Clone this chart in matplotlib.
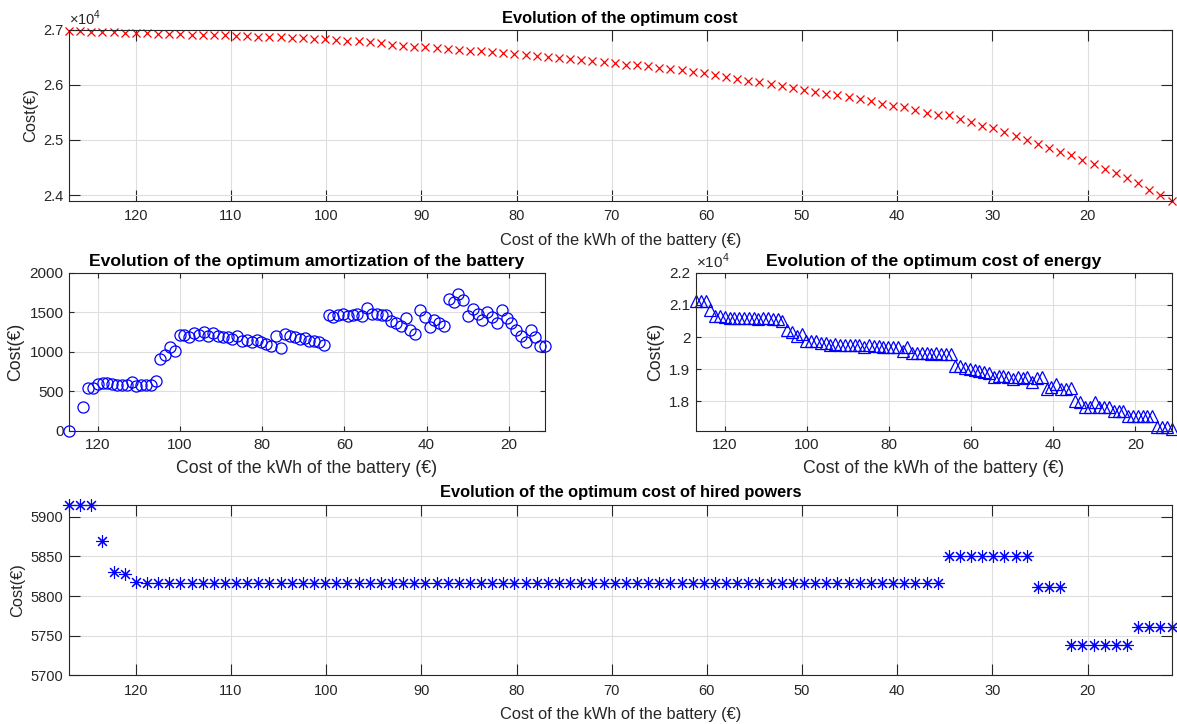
import numpy as np
import matplotlib
matplotlib.use("Agg")
import matplotlib.pyplot as plt
from matplotlib.ticker import FuncFormatter, MultipleLocator

plt.rcParams['font.family'] = ['Liberation Sans', 'DejaVu Sans']
plt.rcParams['mathtext.fontset'] = 'custom'
plt.rcParams['mathtext.rm'] = 'Liberation Sans'

battery_price = [
    127.02, 125.85, 124.68, 123.51, 122.34, 121.17, 120.00, 118.83, 117.66, 116.49,
    115.32, 114.15, 112.98, 111.81, 110.64, 109.47, 108.30, 107.13, 105.96, 104.79,
    103.62, 102.45, 101.28, 100.11, 98.94, 97.77, 96.60, 95.43, 94.26, 93.09,
    91.92, 90.75, 89.58, 88.41, 87.24, 86.07, 84.90, 83.73, 82.56, 81.39,
    80.22, 79.05, 77.88, 76.71, 75.54, 74.37, 73.20, 72.03, 70.86, 69.69,
    68.52, 67.35, 66.18, 65.01, 63.84, 62.67, 61.50, 60.33, 59.16, 57.99,
    56.82, 55.65, 54.48, 53.31, 52.14, 50.97, 49.80, 48.63, 47.46, 46.29,
    45.12, 43.95, 42.78, 41.61, 40.44, 39.27, 38.10, 36.93, 35.76, 34.59,
    33.42, 32.25, 31.08, 29.91, 28.74, 27.57, 26.40, 25.23, 24.06, 22.89,
    21.72, 20.55, 19.38, 18.21, 17.04, 15.87, 14.70, 13.53, 12.36, 11.19]

total_cost = [
    26966, 26966, 26960, 26954, 26948, 26942, 26936, 26930, 26924, 26918,
    26912, 26906, 26900, 26897, 26894, 26888, 26878, 26870, 26864, 26858,
    26846, 26840, 26830, 26822, 26810, 26798, 26786, 26770, 26748, 26728,
    26707, 26690, 26677, 26665, 26647, 26634, 26616, 26604, 26586, 26574,
    26556, 26532, 26514, 26502, 26484, 26466, 26441, 26423, 26411, 26393,
    26363, 26351, 26333, 26303, 26285, 26260, 26230, 26212, 26170, 26140,
    26110, 26073, 26043, 26013, 25983, 25941, 25910, 25869, 25833, 25807,
    25771, 25742, 25711, 25657, 25621, 25590, 25536, 25489, 25460, 25445,
    25385, 25326, 25259, 25217, 25145, 25078, 25005, 24933, 24855, 24783,
    24722, 24643, 24565, 24480, 24403, 24312, 24222, 24100, 23997, 23901]

amortization = [
    0, np.nan, np.nan, 298, 537, 537, 595, 608, 603, 595,
    587, 583, 583, 616, 570, 579, 583, 587, 637, 905,
    959, 1066, 1008, 1215, 1215, 1186, 1235, 1215, 1256, 1194,
    1235, 1202, 1190, 1182, 1161, 1202, 1132, 1149, 1124, 1149,
    1128, 1103, 1078, 1202, 1050, 1227, 1202, 1182, 1165, 1173,
    1132, 1140, 1120, 1091, 1463, 1440, 1467, 1477, 1456, 1467,
    1479, 1450, 1553, 1478, 1477, 1460, 1471, 1394, 1367, 1321,
    1433, 1270, 1230, 1535, 1442, 1315, 1404, 1369, 1327, 1666,
    1628, 1726, 1660, 1456, 1541, 1477, 1408, 1508, 1440, 1367,
    1525, 1430, 1363, 1280, 1203, 1122, 1276, 1185, 1076, 1072]

energy_cost = [
    21120, 21118, 21112, 20850, 20666, 20662, 20608, 20590, 20589, 20591,
    20593, 20591, 20585, 20552, 20592, 20577, 20561, 20551, 20495, 20221,
    20155, 20042, 20088, 19875, 19863, 19880, 19819, 19820, 19757, 19799,
    19740, 19749, 19755, 19751, 19754, 19700, 19752, 19723, 19730, 19693,
    19696, 19697, 19704, 19568, 19702, 19507, 19507, 19509, 19514, 19488,
    19499, 19479, 19481, 19480, 19090, 19088, 19031, 19003, 18982, 18941,
    18899, 18891, 18758, 18803, 18774, 18749, 18707, 18743, 18734, 18754,
    18606, 18740, 18749, 18390, 18447, 18543, 18400, 18388, 18401, 18013,
    17991, 17834, 17833, 17995, 17838, 17835, 17831, 17699, 17689, 17690,
    17544, 17560, 17549, 17547, 17547, 17537, 17215, 17210, 17200, 17130]

hired_power_cost = [
    5915, 5915, 5915, 5870, 5830, 5828, 5818, 5816, 5816, 5816,
    5816, 5816, 5816, 5816, 5816, 5816, 5816, 5816, 5816, 5816,
    5816, 5816, 5816, 5816, 5816, 5816, 5816, 5816, 5816, 5816,
    5816, 5816, 5816, 5816, 5816, 5816, 5816, 5816, 5816, 5816,
    5816, 5816, 5816, 5816, 5816, 5816, 5816, 5816, 5816, 5816,
    5816, 5816, 5816, 5816, 5816, 5816, 5816, 5816, 5816, 5816,
    5816, 5816, 5816, 5816, 5816, 5816, 5816, 5816, 5816, 5816,
    5816, 5816, 5816, 5816, 5816, 5816, 5816, 5816, 5816, 5851,
    5851, 5851, 5851, 5851, 5851, 5851, 5851, 5811, 5811, 5811,
    5738, 5738, 5738, 5738, 5738, 5738, 5761, 5761, 5761, 5761]

titles = ["Evolution of the optimum cost",
          "Evolution of the optimum amortization of the battery",
          "Evolution of the optimum cost of energy",
          "Evolution of the optimum cost of hired powers"]
xlabel = "Cost of the kWh of the battery (€)"
ylabel = "Cost(€)"

W, H = 1177, 724
fig = plt.figure(figsize=(W / 100, H / 100), dpi=100)

def rect(l, t, r, b):
    return [l / W, 1 - b / H, (r - l) / W, (b - t) / H]

TXT = '#262626'
ax_top = fig.add_axes(rect(69, 29.5, 1171.5, 201))
ax_am = fig.add_axes(rect(69, 272.7, 545, 431))
ax_en = fig.add_axes(rect(696, 272.7, 1171.5, 431))
ax_bot = fig.add_axes(rect(69, 505, 1171.5, 675.3))

x = np.array(battery_price)

def style(ax, ticklen, fs_tick, fs_lab, xstep, pad, labelpad):
    ax.set_xlim(max(x), min(x))
    ax.xaxis.set_major_locator(MultipleLocator(xstep))
    ax.grid(True, color='#dedede', linewidth=0.8)
    ax.set_axisbelow(True)
    ax.tick_params(direction='in', top=True, right=True, length=ticklen,
                   width=0.8, colors=TXT, labelsize=fs_tick)
    ax.tick_params(axis='x', pad=pad)
    ax.tick_params(axis='y', pad=4)
    for s in ax.spines.values():
        s.set_color(TXT)
        s.set_linewidth(0.8)
    ax.set_xlabel(xlabel, fontsize=fs_lab, color=TXT, labelpad=labelpad)
    ax.set_ylabel(ylabel, fontsize=fs_lab, color=TXT, labelpad=4)

# Top
ax_top.plot(x, total_cost, linestyle='none', marker='x', color='red',
            ms=6, mew=0.9, clip_on=False)
style(ax_top, 8, 10.5, 11.8, 10, 6, 7)
ax_top.set_ylim(23895, 27000)
ax_top.set_yticks([24000, 25000, 26000, 27000])
ax_top.yaxis.set_major_formatter(FuncFormatter(lambda v, p: f'{v/1e4:g}'))
ax_top.set_title(titles[0], fontsize=11.8, fontweight='bold', pad=5)
ax_top.text(0.0, 1.01, r'$\times10^{4}$', transform=ax_top.transAxes,
            fontsize=10.5, color=TXT, ha='left', va='bottom')

# Amortization
ax_am.plot(x, amortization, linestyle='none', marker='o', mfc='none',
           mec='blue', ms=8, mew=0.9, clip_on=False)
style(ax_am, 3.5, 11, 12.8, 20, 5, 6)
ax_am.set_ylim(0, 2000)
ax_am.set_yticks([0, 500, 1000, 1500, 2000])
ax_am.set_title(titles[1], fontsize=12.6, fontweight='bold', pad=5)

# Energy
ax_en.plot(x, energy_cost, linestyle='none', marker='^', mfc='none',
           mec='blue', ms=8, mew=0.9, clip_on=False)
style(ax_en, 3.5, 11, 12.8, 20, 5, 6)
ax_en.set_ylim(17080, 22000)
ax_en.set_yticks([18000, 19000, 20000, 21000, 22000])
ax_en.yaxis.set_major_formatter(FuncFormatter(lambda v, p: f'{v/1e4:g}'))
ax_en.set_title(titles[2], fontsize=12.6, fontweight='bold', pad=5)
ax_en.text(0.0, 1.01, r'$\times10^{4}$', transform=ax_en.transAxes,
           fontsize=11, color=TXT, ha='left', va='bottom')

# Hired powers
ax_bot.plot(x, hired_power_cost, linestyle='none', marker=(8, 2, 0),
            color='blue', ms=9, mew=0.8, clip_on=False)
style(ax_bot, 8, 10.5, 11.8, 10, 6, 7)
ax_bot.set_ylim(5700, 5915)
ax_bot.set_yticks([5700, 5750, 5800, 5850, 5900])
ax_bot.set_title(titles[3], fontsize=11.8, fontweight='bold', pad=6)

fig.savefig('out.png', dpi=100)
